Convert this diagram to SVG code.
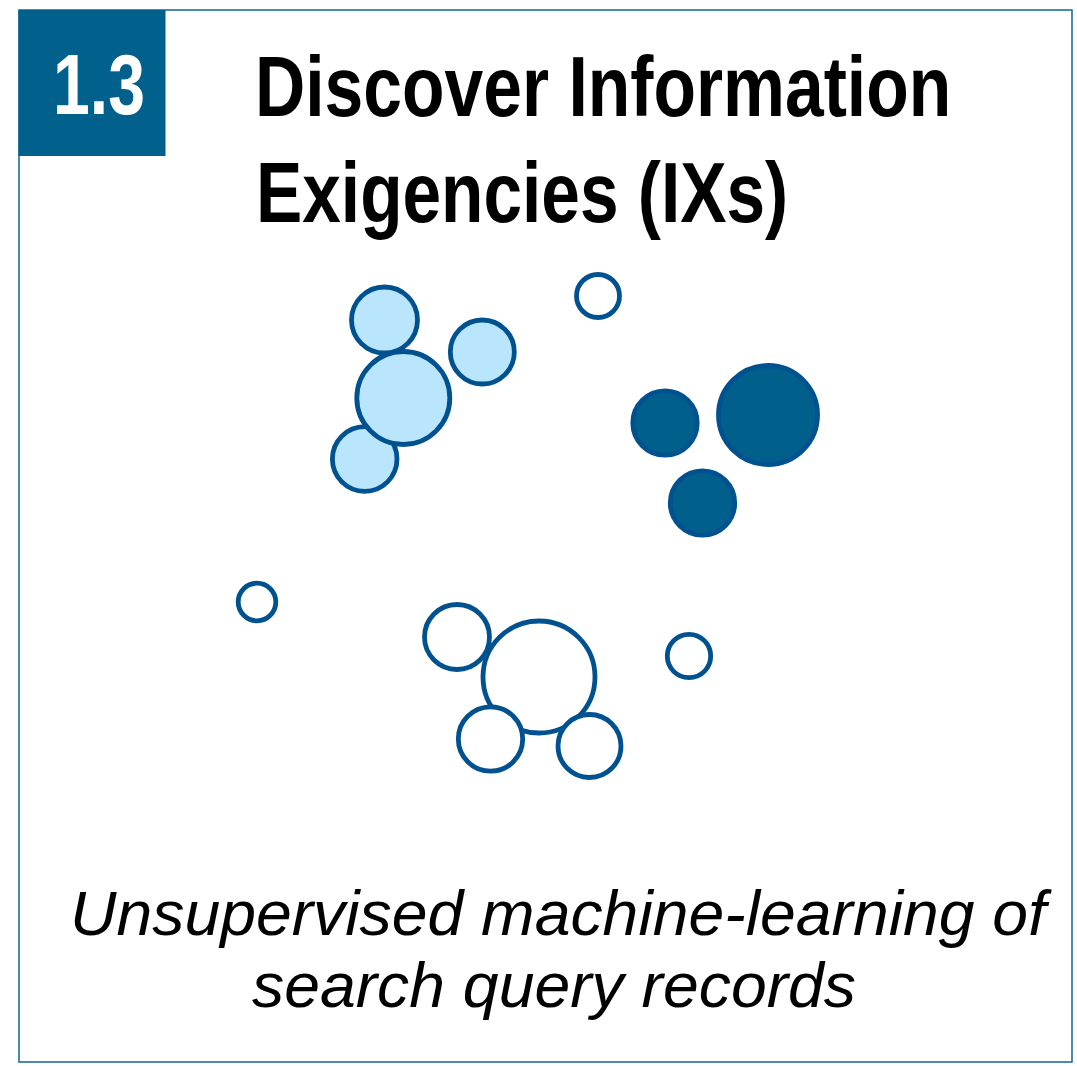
<svg xmlns="http://www.w3.org/2000/svg" width="1077" height="1066" viewBox="0 0 1077 1066">
  <style>
    .frame { fill: #ffffff; stroke: #1f6f98; stroke-width: 1.6; }
    .badge { fill: #01608c; }
    .badge-text { font-family: "Liberation Sans", Arial, sans-serif; font-weight: bold; font-size: 85px; fill: #ffffff; }
    .title { font-family: "Liberation Sans", Arial, sans-serif; font-weight: bold; font-size: 85px; fill: #000000; }
    .caption { font-family: "Liberation Sans", Arial, sans-serif; font-style: italic; font-size: 63px; fill: #000000; }
    .bubble { stroke: #00518f; stroke-width: 4.8; }
    .light { fill: #b9e6fc; }
    .dark { fill: #015f8c; }
    .empty { fill: #ffffff; }
  </style>

  <!-- card frame -->
  <rect class="frame" x="19" y="10" width="1053" height="1052"/>

  <!-- section number badge (condensed bold) -->
  <g id="badge">
    <rect class="badge" x="18.5" y="10" width="147" height="146"/>
    <text class="badge-text" transform="translate(53 114) scale(0.8 1)" x="0" y="0" textLength="115" lengthAdjust="spacingAndGlyphs">1.3</text>
  </g>

  <!-- heading (condensed bold) -->
  <g id="title">
    <text class="title" transform="translate(255 116) scale(0.82 1)" x="0" y="0" textLength="849" lengthAdjust="spacingAndGlyphs">Discover Information</text>
    <text class="title" transform="translate(256 222) scale(0.82 1)" x="0" y="0" textLength="649" lengthAdjust="spacingAndGlyphs">Exigencies (IXs)</text>
  </g>

  <!-- light cluster -->
  <g id="cluster-light">
    <circle class="bubble light" cx="384.5" cy="320" r="33"/>
    <circle class="bubble light" cx="364.7" cy="459" r="32.3"/>
    <circle class="bubble light" cx="403.3" cy="398" r="46.5"/>
    <circle class="bubble light" cx="482.3" cy="352" r="32"/>
  </g>

  <!-- dark cluster -->
  <g id="cluster-dark">
    <circle class="bubble dark" cx="665" cy="423" r="32.2"/>
    <circle class="bubble dark" cx="768" cy="415" r="49.5"/>
    <circle class="bubble dark" cx="702.5" cy="503" r="32.2"/>
  </g>

  <!-- unfilled cluster -->
  <g id="cluster-empty">
    <circle class="bubble empty" cx="539" cy="677" r="56"/>
    <circle class="bubble empty" cx="457" cy="637" r="32.5"/>
    <circle class="bubble empty" cx="490.5" cy="739" r="32.2"/>
    <circle class="bubble empty" cx="589.5" cy="746" r="31.5"/>
  </g>

  <!-- outliers -->
  <g id="outliers">
    <circle class="bubble empty" cx="598" cy="296" r="21.5"/>
    <circle class="bubble empty" cx="257" cy="602" r="18.8"/>
    <circle class="bubble empty" cx="689" cy="656" r="21.7"/>
  </g>

  <!-- caption -->
  <g id="caption">
    <text class="caption" x="70" y="935" textLength="976" lengthAdjust="spacingAndGlyphs">Unsupervised machine-learning of</text>
    <text class="caption" x="252" y="1007" textLength="604" lengthAdjust="spacingAndGlyphs">search query records</text>
  </g>
</svg>
